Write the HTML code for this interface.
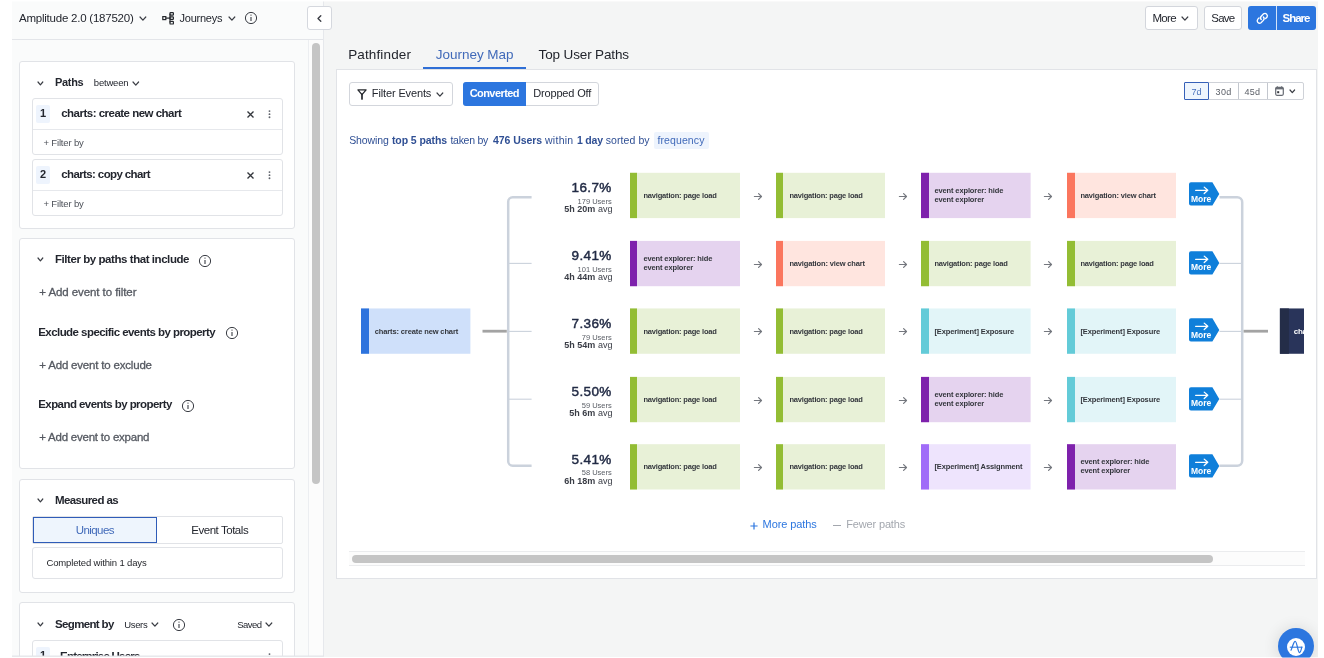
<!DOCTYPE html>
<html lang="en">
<head>
<meta charset="utf-8">
<title>Journeys - Amplitude</title>
<style>
html,body{margin:0;padding:0;background:#fff;}
body{width:1324px;height:658px;overflow:hidden;position:relative;font-family:"Liberation Sans", sans-serif;color:#1e2a4a;}
.a{position:absolute;}
.t{position:absolute;white-space:pre;}
svg{position:absolute;overflow:visible;}
b{font-weight:700;}
</style>
</head>
<body>
<div class="a" style="left:12px;top:1px;width:1306px;height:656px;background:#f4f5f5;"></div>
<div class="a" style="left:12px;top:1px;width:311px;height:656px;background:#fafbfb;"></div>
<div class="a" style="left:323px;top:1px;width:1px;height:656px;background:#e6e8ec;"></div>
<div class="a" style="left:12px;top:39px;width:311px;height:1px;background:#e3e5e9;"></div>
<div class="a" style="left:308px;top:40px;width:1px;height:617px;background:#eceef1;"></div>
<div class="a" style="left:309px;top:40px;width:14px;height:617px;background:#fcfcfc;"></div>
<div class="a" style="left:311.7px;top:43px;width:8px;height:441.3px;background:#c5c5c5;border-radius:4px;"></div>
<span class="t" style="left:19px;top:11px;font-size:11.5px;line-height:14px;color:#23262e;letter-spacing:-0.23px;">Amplitude 2.0 (187520)</span>
<svg style="left:140px;top:16.6px" width="5.8" height="3.2" viewBox="0 0 5.8 3.2"><path d="M0 0 L2.9 3.2 L5.8 0" fill="none" stroke="#3a3d44" stroke-width="1.2" stroke-linecap="round" stroke-linejoin="round"/></svg>
<svg style="left:162px;top:12px" width="14" height="13" viewBox="0 0 14 13"><g fill="none" stroke="#25282d" stroke-width="1.2"><rect x="0.8" y="4.6" width="3" height="3"/><path d="M3.8 6.1 H8"/><path d="M8 1.8 V10.6"/><rect x="8" y="0.6" width="3.4" height="2.6" rx="0.6"/><rect x="8" y="4.8" width="3.4" height="2.6" rx="0.6"/><rect x="8" y="9.4" width="3.4" height="2.6" rx="0.6"/></g></svg>
<span class="t" style="left:179.5px;top:12px;font-size:11px;line-height:13px;color:#23262e;letter-spacing:-0.23px;">Journeys</span>
<svg style="left:228.8px;top:16.6px" width="5.8" height="3.2" viewBox="0 0 5.8 3.2"><path d="M0 0 L2.9 3.2 L5.8 0" fill="none" stroke="#3a3d44" stroke-width="1.2" stroke-linecap="round" stroke-linejoin="round"/></svg>
<svg style="left:244px;top:11.3px" width="14" height="14" viewBox="-7 -7 14 14"><circle r="5.6" fill="none" stroke="#3a3d44" stroke-width="1"/><path d="M0 -1 V3" stroke="#3a3d44" stroke-width="1.1" fill="none"/><circle cy="-2.9" r="0.7" fill="#3a3d44"/></svg>
<div class="a" style="left:307px;top:6px;width:25px;height:24px;background:#fff;border:1px solid #d5d8de;box-sizing:border-box;border-radius:3px;"></div>
<svg style="left:317.4px;top:14.6px" width="5" height="7" viewBox="0 0 5 7"><path d="M3.8 0.7 L1 3.5 L3.8 6.3" fill="none" stroke="#3a3d44" stroke-width="1.35" stroke-linecap="round" stroke-linejoin="round"/></svg>
<div class="a" style="left:1145px;top:6px;width:53px;height:24px;background:#fff;border:1px solid #d3d6dc;box-sizing:border-box;border-radius:3px;"></div>
<span class="t" style="left:1152.4px;top:11px;font-size:11.5px;line-height:14px;color:#23262e;letter-spacing:-0.68px;">More</span>
<svg style="left:1182px;top:16.6px" width="5.8" height="3.2" viewBox="0 0 5.8 3.2"><path d="M0 0 L2.9 3.2 L5.8 0" fill="none" stroke="#3a3d44" stroke-width="1.2" stroke-linecap="round" stroke-linejoin="round"/></svg>
<div class="a" style="left:1204px;top:6px;width:38px;height:24px;background:#fff;border:1px solid #d3d6dc;box-sizing:border-box;border-radius:3px;"></div>
<span class="t" style="left:1211.3px;top:11px;font-size:11.5px;line-height:14px;color:#23262e;letter-spacing:-0.8px;">Save</span>
<div class="a" style="left:1248px;top:6px;width:68px;height:24px;background:#d3e3f9;border-radius:3px;"></div>
<div class="a" style="left:1248px;top:6px;width:28px;height:24px;background:#2c76df;border-radius:3px 0 0 3px;"></div>
<div class="a" style="left:1277px;top:6px;width:39px;height:24px;background:#2c76df;border-radius:0 3px 3px 0;"></div>
<svg style="left:1256px;top:12.3px" width="12.6" height="12.6" viewBox="0 0 12 12"><g fill="none" stroke="#fff" stroke-width="1.3" stroke-linecap="round"><path d="M5 7.2 a2.3 2.3 0 0 1 0 -3.2 l2.2 -2.2 a2.3 2.3 0 0 1 3.2 3.2 l-1.2 1.2"/><path d="M7 4.8 a2.3 2.3 0 0 1 0 3.2 l-2.2 2.2 a2.3 2.3 0 0 1 -3.2 -3.2 l1.2 -1.2"/></g></svg>
<span class="t" style="left:1282.6px;top:11px;font-size:11.5px;line-height:14px;font-weight:700;color:#fff;letter-spacing:-1.03px;">Share</span>
<div class="a" style="left:19px;top:61px;width:276px;height:168px;background:#fff;border:1px solid #e1e3e7;box-sizing:border-box;border-radius:3px;"></div>
<div class="a" style="left:19px;top:238px;width:276px;height:231px;background:#fff;border:1px solid #e1e3e7;box-sizing:border-box;border-radius:3px;"></div>
<div class="a" style="left:19px;top:479px;width:276px;height:114px;background:#fff;border:1px solid #e1e3e7;box-sizing:border-box;border-radius:3px;"></div>
<div class="a" style="left:19px;top:602px;width:276px;height:70px;background:#fff;border:1px solid #e1e3e7;box-sizing:border-box;border-radius:3px;"></div>
<svg style="left:37.8px;top:81.8px" width="4.8" height="2.8" viewBox="0 0 4.8 2.8"><path d="M0 0 L2.4 2.8 L4.8 0" fill="none" stroke="#3a3d44" stroke-width="1.2" stroke-linecap="round" stroke-linejoin="round"/></svg>
<span class="t" style="left:55px;top:76px;font-size:11px;line-height:13px;font-weight:700;color:#23262e;letter-spacing:-0.31px;">Paths</span>
<span class="t" style="left:93.8px;top:77px;font-size:9.5px;line-height:11px;color:#23262e;letter-spacing:-0.19px;">between</span>
<svg style="left:133.4px;top:81.6px" width="5.6" height="3.1" viewBox="0 0 5.6 3.1"><path d="M0 0 L2.8 3.1 L5.6 0" fill="none" stroke="#3a3d44" stroke-width="1.2" stroke-linecap="round" stroke-linejoin="round"/></svg>
<div class="a" style="left:32px;top:98px;width:251px;height:57px;background:#fff;border:1px solid #e1e3e7;box-sizing:border-box;border-radius:3px;"></div>
<div class="a" style="left:33px;top:129px;width:249px;height:1px;background:#e6e8ec;"></div>
<div class="a" style="left:36px;top:105px;width:14px;height:18px;background:#eef4fd;border-radius:2px;"></div>
<span class="t" style="left:40px;top:107px;font-size:11px;line-height:13px;font-weight:700;color:#23262e;letter-spacing:-0.12px;">1</span>
<span class="t" style="left:61.2px;top:106px;font-size:11.5px;line-height:14px;font-weight:700;color:#23262e;letter-spacing:-0.51px;">charts: create new chart</span>
<svg style="left:246.8px;top:110.9px" width="7" height="7" viewBox="0 0 7 7"><path d="M0.5 0.5 L6.5 6.5 M6.5 0.5 L0.5 6.5" stroke="#33363c" stroke-width="1.35" fill="none"/></svg>
<svg style="left:267.8px;top:110.1px" width="3" height="9" viewBox="0 0 3 9"><g fill="#5f636b"><circle cx="1.5" cy="1.1" r="0.95"/><circle cx="1.5" cy="4.15" r="0.95"/><circle cx="1.5" cy="7.2" r="0.95"/></g></svg>
<span class="t" style="left:43.4px;top:137px;font-size:9.5px;line-height:11px;color:#4d5159;letter-spacing:-0.15px;">+ Filter by</span>
<div class="a" style="left:32px;top:159px;width:251px;height:57px;background:#fff;border:1px solid #e1e3e7;box-sizing:border-box;border-radius:3px;"></div>
<div class="a" style="left:33px;top:190px;width:249px;height:1px;background:#e6e8ec;"></div>
<div class="a" style="left:36px;top:166px;width:14px;height:18px;background:#eef4fd;border-radius:2px;"></div>
<span class="t" style="left:40px;top:168px;font-size:11px;line-height:13px;font-weight:700;color:#23262e;letter-spacing:-0.12px;">2</span>
<span class="t" style="left:61.2px;top:167px;font-size:11.5px;line-height:14px;font-weight:700;color:#23262e;letter-spacing:-0.61px;">charts: copy chart</span>
<svg style="left:246.8px;top:171.9px" width="7" height="7" viewBox="0 0 7 7"><path d="M0.5 0.5 L6.5 6.5 M6.5 0.5 L0.5 6.5" stroke="#33363c" stroke-width="1.35" fill="none"/></svg>
<svg style="left:267.8px;top:171.1px" width="3" height="9" viewBox="0 0 3 9"><g fill="#5f636b"><circle cx="1.5" cy="1.1" r="0.95"/><circle cx="1.5" cy="4.15" r="0.95"/><circle cx="1.5" cy="7.2" r="0.95"/></g></svg>
<span class="t" style="left:43.4px;top:198px;font-size:9.5px;line-height:11px;color:#4d5159;letter-spacing:-0.15px;">+ Filter by</span>
<svg style="left:37.8px;top:258.4px" width="4.8" height="2.8" viewBox="0 0 4.8 2.8"><path d="M0 0 L2.4 2.8 L4.8 0" fill="none" stroke="#3a3d44" stroke-width="1.2" stroke-linecap="round" stroke-linejoin="round"/></svg>
<span class="t" style="left:55px;top:252px;font-size:11.5px;line-height:14px;font-weight:700;color:#23262e;letter-spacing:-0.44px;">Filter by paths that include</span>
<svg style="left:198.4px;top:253.8px" width="14" height="14" viewBox="-7 -7 14 14"><circle r="5.6" fill="none" stroke="#3a3d44" stroke-width="1"/><path d="M0 -1 V3" stroke="#3a3d44" stroke-width="1.1" fill="none"/><circle cy="-2.9" r="0.7" fill="#3a3d44"/></svg>
<span class="t" style="left:39.3px;top:285px;font-size:11.5px;line-height:14px;color:#555961;letter-spacing:-0.08px;-webkit-text-stroke:0.3px #555961;">+ Add event to filter</span>
<span class="t" style="left:38.2px;top:325px;font-size:11.5px;line-height:14px;font-weight:700;color:#23262e;letter-spacing:-0.55px;">Exclude specific events by property</span>
<svg style="left:224.5px;top:326.4px" width="14" height="14" viewBox="-7 -7 14 14"><circle r="5.6" fill="none" stroke="#3a3d44" stroke-width="1"/><path d="M0 -1 V3" stroke="#3a3d44" stroke-width="1.1" fill="none"/><circle cy="-2.9" r="0.7" fill="#3a3d44"/></svg>
<span class="t" style="left:39.3px;top:358px;font-size:11.5px;line-height:14px;color:#555961;letter-spacing:-0.19px;-webkit-text-stroke:0.3px #555961;">+ Add event to exclude</span>
<span class="t" style="left:38.2px;top:397px;font-size:11.5px;line-height:14px;font-weight:700;color:#23262e;letter-spacing:-0.56px;">Expand events by property</span>
<svg style="left:181.4px;top:398.8px" width="14" height="14" viewBox="-7 -7 14 14"><circle r="5.6" fill="none" stroke="#3a3d44" stroke-width="1"/><path d="M0 -1 V3" stroke="#3a3d44" stroke-width="1.1" fill="none"/><circle cy="-2.9" r="0.7" fill="#3a3d44"/></svg>
<span class="t" style="left:39.3px;top:430px;font-size:11.5px;line-height:14px;color:#555961;letter-spacing:-0.23px;-webkit-text-stroke:0.3px #555961;">+ Add event to expand</span>
<svg style="left:37.8px;top:499.4px" width="4.8" height="2.8" viewBox="0 0 4.8 2.8"><path d="M0 0 L2.4 2.8 L4.8 0" fill="none" stroke="#3a3d44" stroke-width="1.2" stroke-linecap="round" stroke-linejoin="round"/></svg>
<span class="t" style="left:55px;top:493px;font-size:11.5px;line-height:14px;font-weight:700;color:#23262e;letter-spacing:-0.61px;">Measured as</span>
<div class="a" style="left:32px;top:516px;width:251px;height:28px;background:#fff;border:1px solid #e1e3e7;box-sizing:border-box;border-radius:2px;"></div>
<div class="a" style="left:33px;top:517px;width:124px;height:26px;background:#eef5fd;border:1px solid #2f5cb8;box-sizing:border-box;"></div>
<span class="t" style="left:75.7px;top:523px;font-size:11.5px;line-height:14px;color:#416ab9;letter-spacing:-0.56px;">Uniques</span>
<span class="t" style="left:191.2px;top:523px;font-size:11.5px;line-height:14px;color:#23262e;letter-spacing:-0.45px;">Event Totals</span>
<div class="a" style="left:32px;top:547px;width:251px;height:32px;background:#fff;border:1px solid #e1e3e7;box-sizing:border-box;border-radius:3px;"></div>
<span class="t" style="left:46.5px;top:557px;font-size:9.5px;line-height:11px;color:#1f2126;letter-spacing:-0.15px;">Completed within 1 days</span>
<svg style="left:37.8px;top:623.4px" width="4.8" height="2.8" viewBox="0 0 4.8 2.8"><path d="M0 0 L2.4 2.8 L4.8 0" fill="none" stroke="#3a3d44" stroke-width="1.2" stroke-linecap="round" stroke-linejoin="round"/></svg>
<span class="t" style="left:55px;top:617px;font-size:11.5px;line-height:14px;font-weight:700;color:#23262e;letter-spacing:-0.65px;">Segment by</span>
<span class="t" style="left:124.3px;top:619px;font-size:9.5px;line-height:11px;color:#23262e;letter-spacing:-0.36px;">Users</span>
<svg style="left:152.3px;top:623.2px" width="5.8" height="3.2" viewBox="0 0 5.8 3.2"><path d="M0 0 L2.9 3.2 L5.8 0" fill="none" stroke="#3a3d44" stroke-width="1.2" stroke-linecap="round" stroke-linejoin="round"/></svg>
<svg style="left:171.6px;top:618.3px" width="14" height="14" viewBox="-7 -7 14 14"><circle r="5.6" fill="none" stroke="#3a3d44" stroke-width="1"/><path d="M0 -1 V3" stroke="#3a3d44" stroke-width="1.1" fill="none"/><circle cy="-2.9" r="0.7" fill="#3a3d44"/></svg>
<span class="t" style="left:237.2px;top:619px;font-size:9.5px;line-height:11px;color:#23262e;letter-spacing:-0.53px;">Saved</span>
<svg style="left:266.3px;top:623.2px" width="5.8" height="3.2" viewBox="0 0 5.8 3.2"><path d="M0 0 L2.9 3.2 L5.8 0" fill="none" stroke="#3a3d44" stroke-width="1.2" stroke-linecap="round" stroke-linejoin="round"/></svg>
<div class="a" style="left:32px;top:640px;width:251px;height:40px;background:#fff;border:1px solid #e1e3e7;box-sizing:border-box;border-radius:3px;"></div>
<div class="a" style="left:36px;top:647px;width:14px;height:18px;background:#eef4fd;border-radius:2px;"></div>
<span class="t" style="left:40px;top:649px;font-size:11px;line-height:13px;font-weight:700;color:#23262e;letter-spacing:-0.12px;">1</span>
<span class="t" style="left:60px;top:649px;font-size:11.5px;line-height:14px;font-weight:700;color:#23262e;letter-spacing:-0.78px;">Enterprise Users</span>
<svg style="left:267.8px;top:653.1px" width="3" height="9" viewBox="0 0 3 9"><g fill="#5f636b"><circle cx="1.5" cy="1.1" r="0.95"/><circle cx="1.5" cy="4.15" r="0.95"/><circle cx="1.5" cy="7.2" r="0.95"/></g></svg>
<span class="t" style="left:348.2px;top:47px;font-size:13.5px;line-height:16px;color:#22252d;letter-spacing:0.13px;">Pathfinder</span>
<span class="t" style="left:435.8px;top:47px;font-size:13.5px;line-height:16px;color:#416ab9;letter-spacing:-0.03px;">Journey Map</span>
<span class="t" style="left:538.6px;top:47px;font-size:13.5px;line-height:16px;color:#22252d;letter-spacing:-0.14px;">Top User Paths</span>
<div class="a" style="left:336px;top:69px;width:981px;height:510px;background:#fff;border:1px solid #e1e3e7;box-sizing:border-box;"></div>
<div class="a" style="left:423px;top:67px;width:103px;height:2px;background:#2f6fd6;"></div>
<div class="a" style="left:349px;top:82px;width:104px;height:24px;background:#fff;border:1px solid #d3d6dc;box-sizing:border-box;border-radius:3px;"></div>
<svg style="left:357.4px;top:89.2px" width="10" height="11" viewBox="0 0 10 11"><path d="M0.9 0.9 H9.1 L5 5.6 Z" fill="none" stroke="#25282d" stroke-width="1.3" stroke-linejoin="round"/><path d="M5 5.4 V10" fill="none" stroke="#25282d" stroke-width="1.7" stroke-linecap="round"/></svg>
<span class="t" style="left:371.8px;top:87px;font-size:11px;line-height:13px;color:#23262e;letter-spacing:-0.13px;">Filter Events</span>
<svg style="left:437.3px;top:92.7px" width="5.8" height="3.2" viewBox="0 0 5.8 3.2"><path d="M0 0 L2.9 3.2 L5.8 0" fill="none" stroke="#3a3d44" stroke-width="1.2" stroke-linecap="round" stroke-linejoin="round"/></svg>
<div class="a" style="left:463px;top:82px;width:136px;height:24px;background:#fff;border:1px solid #d3d6dc;box-sizing:border-box;border-radius:3px;"></div>
<div class="a" style="left:463px;top:82px;width:63px;height:24px;background:#2c76df;border-radius:3px 0 0 3px;"></div>
<span class="t" style="left:469.7px;top:87px;font-size:11px;line-height:13px;font-weight:700;color:#fff;letter-spacing:-0.57px;">Converted</span>
<span class="t" style="left:533.2px;top:87px;font-size:11px;line-height:13px;color:#23262e;letter-spacing:-0.16px;">Dropped Off</span>
<div class="a" style="left:1184px;top:82px;width:120px;height:18px;background:#fff;border:1px solid #cfd2d8;box-sizing:border-box;border-radius:2px;"></div>
<div class="a" style="left:1184px;top:82px;width:25px;height:18px;background:#eef5fd;border:1px solid #3560b8;box-sizing:border-box;border-radius:1px;"></div>
<div class="a" style="left:1238px;top:83px;width:1px;height:16px;background:#c3c7ce;"></div>
<div class="a" style="left:1267px;top:83px;width:1px;height:16px;background:#c3c7ce;"></div>
<span class="t" style="left:1191.4px;top:87px;font-size:9px;line-height:11px;color:#466fba;letter-spacing:0.19px;">7d</span>
<span class="t" style="left:1215.6px;top:87px;font-size:9px;line-height:11px;color:#5a5e66;letter-spacing:0.32px;">30d</span>
<span class="t" style="left:1244.4px;top:87px;font-size:9px;line-height:11px;color:#5a5e66;letter-spacing:0.32px;">45d</span>
<svg style="left:1274.8px;top:85.6px" width="9" height="10" viewBox="0 0 9 10"><rect x="0.7" y="1.4" width="7.6" height="7.9" rx="1.2" fill="none" stroke="#676b73" stroke-width="1.2"/><path d="M0.7 2 H8.3 V3.4 H0.7 Z" fill="#676b73"/><path d="M2.3 0.3 V2 M6.7 0.3 V2" stroke="#676b73" stroke-width="1.1"/><rect x="2.2" y="5.2" width="2" height="2" fill="#33363c"/></svg>
<svg style="left:1289.6px;top:90px" width="4.6" height="2.6" viewBox="0 0 4.6 2.6"><path d="M0 0 L2.3 2.6 L4.6 0" fill="none" stroke="#3a3d44" stroke-width="1.2" stroke-linecap="round" stroke-linejoin="round"/></svg>
<span class="t" style="left:349.2px;top:134px;font-size:10.5px;line-height:13px;color:#2f4f94;letter-spacing:-0.1px;">Showing</span>
<span class="t" style="left:391.9px;top:134px;font-size:10.5px;line-height:13px;font-weight:700;color:#2f4f94;letter-spacing:-0.08px;">top 5 paths</span>
<span class="t" style="left:450.4px;top:134px;font-size:10.5px;line-height:13px;color:#2f4f94;letter-spacing:-0.26px;">taken by</span>
<span class="t" style="left:493px;top:134px;font-size:10.5px;line-height:13px;font-weight:700;color:#2f4f94;letter-spacing:-0.07px;">476 Users</span>
<span class="t" style="left:545px;top:134px;font-size:10.5px;line-height:13px;color:#2f4f94;letter-spacing:0.27px;">within</span>
<span class="t" style="left:576.9px;top:134px;font-size:10.5px;line-height:13px;font-weight:700;color:#2f4f94;letter-spacing:-0.15px;">1 day</span>
<span class="t" style="left:605.8px;top:134px;font-size:10.5px;line-height:13px;color:#2f4f94;letter-spacing:0.07px;">sorted by</span>
<div class="a" style="left:653.5px;top:131.5px;width:55px;height:17px;background:#eef4fd;border-radius:2px;"></div>
<span class="t" style="left:657.5px;top:134px;font-size:10.5px;line-height:13px;color:#416ab9;letter-spacing:0.1px;">frequency</span>
<svg style="left:0;top:0" width="1324" height="658" viewBox="0 0 1324 658"><g fill="none"><path d="M531.6 197.2 H512.7 a4.5 4.5 0 0 0 -4.5 4.5 V461.3 a4.5 4.5 0 0 0 4.5 4.5 H531.6" stroke="#cbd2dc" stroke-width="2.5"/><path d="M509 263.4 H531.6" stroke="#cbd2dc" stroke-width="1.1"/><path d="M509 331.4 H531.6" stroke="#cbd2dc" stroke-width="1.1"/><path d="M509 399.2 H531.6" stroke="#cbd2dc" stroke-width="1.1"/><path d="M1219.5 197.2 H1237.2 a5 5 0 0 1 5 5 V460.8 a5 5 0 0 1 -5 5 H1219.5" stroke="#cbd2dc" stroke-width="2.5"/><path d="M1219.5 263.4 H1241.5" stroke="#cbd2dc" stroke-width="1.1"/><path d="M1219.5 331.4 H1241.5" stroke="#cbd2dc" stroke-width="1.1"/><path d="M1219.5 399.2 H1241.5" stroke="#cbd2dc" stroke-width="1.1"/><path d="M482.5 331.2 H506.8" stroke="#a3a3a3" stroke-width="2.8"/><path d="M1243.6 331.2 H1268" stroke="#a3a3a3" stroke-width="2.8"/></g></svg>
<svg style="left:0;top:0" width="1324" height="658" viewBox="0 0 1324 658"><rect x="361.00" y="308.46" width="109.40" height="45.30" fill="#cfe0fa"/><rect x="361.00" y="308.46" width="8.00" height="45.30" fill="#2d73dd"/><rect x="1279.9" y="308.46" width="24.1" height="45.3" fill="#29345a"/><rect x="1279.9" y="308.46" width="9" height="45.3" fill="#242d48"/><rect x="630.00" y="172.80" width="110.00" height="45.30" fill="#e8f1d7"/><rect x="630.00" y="172.80" width="7.00" height="45.30" fill="#93bd34"/><rect x="776.00" y="172.80" width="109.00" height="45.30" fill="#e8f1d7"/><rect x="776.00" y="172.80" width="7.00" height="45.30" fill="#93bd34"/><rect x="921.00" y="172.80" width="109.60" height="45.30" fill="#e5d3ef"/><rect x="921.00" y="172.80" width="8.00" height="45.30" fill="#7e21ac"/><rect x="1067.00" y="172.80" width="109.00" height="45.30" fill="#ffe5df"/><rect x="1067.00" y="172.80" width="8.00" height="45.30" fill="#fb765e"/><rect x="630.00" y="240.90" width="110.00" height="45.30" fill="#e5d3ef"/><rect x="630.00" y="240.90" width="7.00" height="45.30" fill="#7e21ac"/><rect x="776.00" y="240.90" width="109.00" height="45.30" fill="#ffe5df"/><rect x="776.00" y="240.90" width="7.00" height="45.30" fill="#fb765e"/><rect x="921.00" y="240.90" width="109.60" height="45.30" fill="#e8f1d7"/><rect x="921.00" y="240.90" width="8.00" height="45.30" fill="#93bd34"/><rect x="1067.00" y="240.90" width="109.00" height="45.30" fill="#e8f1d7"/><rect x="1067.00" y="240.90" width="8.00" height="45.30" fill="#93bd34"/><rect x="630.00" y="308.46" width="110.00" height="45.30" fill="#e8f1d7"/><rect x="630.00" y="308.46" width="7.00" height="45.30" fill="#93bd34"/><rect x="776.00" y="308.46" width="109.00" height="45.30" fill="#e8f1d7"/><rect x="776.00" y="308.46" width="7.00" height="45.30" fill="#93bd34"/><rect x="921.00" y="308.46" width="109.60" height="45.30" fill="#e2f5f8"/><rect x="921.00" y="308.46" width="8.00" height="45.30" fill="#63cbd8"/><rect x="1067.00" y="308.46" width="109.00" height="45.30" fill="#e2f5f8"/><rect x="1067.00" y="308.46" width="8.00" height="45.30" fill="#63cbd8"/><rect x="630.00" y="376.90" width="110.00" height="45.30" fill="#e8f1d7"/><rect x="630.00" y="376.90" width="7.00" height="45.30" fill="#93bd34"/><rect x="776.00" y="376.90" width="109.00" height="45.30" fill="#e8f1d7"/><rect x="776.00" y="376.90" width="7.00" height="45.30" fill="#93bd34"/><rect x="921.00" y="376.90" width="109.60" height="45.30" fill="#e5d3ef"/><rect x="921.00" y="376.90" width="8.00" height="45.30" fill="#7e21ac"/><rect x="1067.00" y="376.90" width="109.00" height="45.30" fill="#e2f5f8"/><rect x="1067.00" y="376.90" width="8.00" height="45.30" fill="#63cbd8"/><rect x="630.00" y="444.20" width="110.00" height="45.30" fill="#e8f1d7"/><rect x="630.00" y="444.20" width="7.00" height="45.30" fill="#93bd34"/><rect x="776.00" y="444.20" width="109.00" height="45.30" fill="#e8f1d7"/><rect x="776.00" y="444.20" width="7.00" height="45.30" fill="#93bd34"/><rect x="921.00" y="444.20" width="109.60" height="45.30" fill="#eee4fd"/><rect x="921.00" y="444.20" width="8.00" height="45.30" fill="#a06cf8"/><rect x="1067.00" y="444.20" width="109.00" height="45.30" fill="#e5d3ef"/><rect x="1067.00" y="444.20" width="8.00" height="45.30" fill="#7e21ac"/></svg>
<span class="t" style="left:374.7px;top:327px;font-size:7.5px;line-height:9px;font-weight:700;color:#33363c;letter-spacing:-0.12px;">charts: create new chart</span>
<div class="a" style="left:1280px;top:309px;width:24px;height:45px;overflow:hidden"><span class="t" style="left:13.8px;top:17.5px;font-size:8px;line-height:10px;font-weight:700;color:#fff;letter-spacing:-0.3px">charts: copy chart</span></div>
<span class="t" style="left:571.56px;top:180px;font-size:13.5px;line-height:16px;color:#222b45;letter-spacing:0.36px;-webkit-text-stroke:0.45px #222b45;">16.7%</span>
<span class="t" style="left:577.61px;top:197px;font-size:7.5px;line-height:9px;color:#5c6068;">179 Users</span>
<span class="t" style="left:564.35px;top:204px;font-size:9px;line-height:11px;color:#3a3d46;"><b>5h 20m</b> avg</span>
<span class="t" style="left:643.4px;top:191px;font-size:7.5px;line-height:9px;font-weight:700;color:#33363c;letter-spacing:-0.18px;">navigation: page load</span>
<span class="t" style="left:789.4px;top:191px;font-size:7.5px;line-height:9px;font-weight:700;color:#33363c;letter-spacing:-0.18px;">navigation: page load</span>
<span class="t" style="left:934.4px;top:186px;font-size:7.5px;line-height:9px;font-weight:700;color:#33363c;letter-spacing:-0.12px;">event explorer: hide</span>
<span class="t" style="left:934.4px;top:195px;font-size:7.5px;line-height:9px;font-weight:700;color:#33363c;letter-spacing:-0.12px;">event explorer</span>
<span class="t" style="left:1080.4px;top:191px;font-size:7.5px;line-height:9px;font-weight:700;color:#33363c;letter-spacing:-0.15px;">navigation: view chart</span>
<svg style="left:754.2px;top:192.5px" width="8" height="7" viewBox="0 0 8 7"><path d="M0.4 3.5 H7.4 M4.6 0.6 L7.5 3.5 L4.6 6.4" fill="none" stroke="#74777e" stroke-width="1.2" stroke-linecap="round" stroke-linejoin="round"/></svg>
<svg style="left:899px;top:192.5px" width="8" height="7" viewBox="0 0 8 7"><path d="M0.4 3.5 H7.4 M4.6 0.6 L7.5 3.5 L4.6 6.4" fill="none" stroke="#74777e" stroke-width="1.2" stroke-linecap="round" stroke-linejoin="round"/></svg>
<svg style="left:1044.4px;top:192.5px" width="8" height="7" viewBox="0 0 8 7"><path d="M0.4 3.5 H7.4 M4.6 0.6 L7.5 3.5 L4.6 6.4" fill="none" stroke="#74777e" stroke-width="1.2" stroke-linecap="round" stroke-linejoin="round"/></svg>
<svg style="left:1188.8px;top:182.4px" width="31" height="24" viewBox="0 0 31 24"><path d="M2 0.2 H23.4 L30.3 11.9 L23.4 23.6 H2 a2 2 0 0 1 -2 -2 V2.2 a2 2 0 0 1 2 -2 Z" fill="#0f7fda"/><path d="M6.6 8.3 H18.6 M15.2 5.1 L18.8 8.3 L15.2 11.5" fill="none" stroke="#fff" stroke-width="1.25" stroke-linecap="round" stroke-linejoin="round"/></svg>
<span class="t" style="left:1191px;top:194px;font-size:8.5px;line-height:10px;font-weight:700;color:#fff;">More</span>
<span class="t" style="left:571.56px;top:248px;font-size:13.5px;line-height:16px;color:#222b45;letter-spacing:0.36px;-webkit-text-stroke:0.45px #222b45;">9.41%</span>
<span class="t" style="left:577.61px;top:265px;font-size:7.5px;line-height:9px;color:#5c6068;">101 Users</span>
<span class="t" style="left:564.35px;top:272px;font-size:9px;line-height:11px;color:#3a3d46;"><b>4h 44m</b> avg</span>
<span class="t" style="left:643.4px;top:254px;font-size:7.5px;line-height:9px;font-weight:700;color:#33363c;letter-spacing:-0.12px;">event explorer: hide</span>
<span class="t" style="left:643.4px;top:263px;font-size:7.5px;line-height:9px;font-weight:700;color:#33363c;letter-spacing:-0.12px;">event explorer</span>
<span class="t" style="left:789.4px;top:259px;font-size:7.5px;line-height:9px;font-weight:700;color:#33363c;letter-spacing:-0.15px;">navigation: view chart</span>
<span class="t" style="left:934.4px;top:259px;font-size:7.5px;line-height:9px;font-weight:700;color:#33363c;letter-spacing:-0.18px;">navigation: page load</span>
<span class="t" style="left:1080.4px;top:259px;font-size:7.5px;line-height:9px;font-weight:700;color:#33363c;letter-spacing:-0.18px;">navigation: page load</span>
<svg style="left:754.2px;top:260.6px" width="8" height="7" viewBox="0 0 8 7"><path d="M0.4 3.5 H7.4 M4.6 0.6 L7.5 3.5 L4.6 6.4" fill="none" stroke="#74777e" stroke-width="1.2" stroke-linecap="round" stroke-linejoin="round"/></svg>
<svg style="left:899px;top:260.6px" width="8" height="7" viewBox="0 0 8 7"><path d="M0.4 3.5 H7.4 M4.6 0.6 L7.5 3.5 L4.6 6.4" fill="none" stroke="#74777e" stroke-width="1.2" stroke-linecap="round" stroke-linejoin="round"/></svg>
<svg style="left:1044.4px;top:260.6px" width="8" height="7" viewBox="0 0 8 7"><path d="M0.4 3.5 H7.4 M4.6 0.6 L7.5 3.5 L4.6 6.4" fill="none" stroke="#74777e" stroke-width="1.2" stroke-linecap="round" stroke-linejoin="round"/></svg>
<svg style="left:1188.8px;top:250.5px" width="31" height="24" viewBox="0 0 31 24"><path d="M2 0.2 H23.4 L30.3 11.9 L23.4 23.6 H2 a2 2 0 0 1 -2 -2 V2.2 a2 2 0 0 1 2 -2 Z" fill="#0f7fda"/><path d="M6.6 8.3 H18.6 M15.2 5.1 L18.8 8.3 L15.2 11.5" fill="none" stroke="#fff" stroke-width="1.25" stroke-linecap="round" stroke-linejoin="round"/></svg>
<span class="t" style="left:1191px;top:262px;font-size:8.5px;line-height:10px;font-weight:700;color:#fff;">More</span>
<span class="t" style="left:571.56px;top:316px;font-size:13.5px;line-height:16px;color:#222b45;letter-spacing:0.36px;-webkit-text-stroke:0.45px #222b45;">7.36%</span>
<span class="t" style="left:581.78px;top:333px;font-size:7.5px;line-height:9px;color:#5c6068;">79 Users</span>
<span class="t" style="left:564.35px;top:340px;font-size:9px;line-height:11px;color:#3a3d46;"><b>5h 54m</b> avg</span>
<span class="t" style="left:643.4px;top:327px;font-size:7.5px;line-height:9px;font-weight:700;color:#33363c;letter-spacing:-0.18px;">navigation: page load</span>
<span class="t" style="left:789.4px;top:327px;font-size:7.5px;line-height:9px;font-weight:700;color:#33363c;letter-spacing:-0.18px;">navigation: page load</span>
<span class="t" style="left:934.4px;top:327px;font-size:7.5px;line-height:9px;font-weight:700;color:#33363c;letter-spacing:-0.12px;">[Experiment] Exposure</span>
<span class="t" style="left:1080.4px;top:327px;font-size:7.5px;line-height:9px;font-weight:700;color:#33363c;letter-spacing:-0.12px;">[Experiment] Exposure</span>
<svg style="left:754.2px;top:328.15999999999997px" width="8" height="7" viewBox="0 0 8 7"><path d="M0.4 3.5 H7.4 M4.6 0.6 L7.5 3.5 L4.6 6.4" fill="none" stroke="#74777e" stroke-width="1.2" stroke-linecap="round" stroke-linejoin="round"/></svg>
<svg style="left:899px;top:328.15999999999997px" width="8" height="7" viewBox="0 0 8 7"><path d="M0.4 3.5 H7.4 M4.6 0.6 L7.5 3.5 L4.6 6.4" fill="none" stroke="#74777e" stroke-width="1.2" stroke-linecap="round" stroke-linejoin="round"/></svg>
<svg style="left:1044.4px;top:328.15999999999997px" width="8" height="7" viewBox="0 0 8 7"><path d="M0.4 3.5 H7.4 M4.6 0.6 L7.5 3.5 L4.6 6.4" fill="none" stroke="#74777e" stroke-width="1.2" stroke-linecap="round" stroke-linejoin="round"/></svg>
<svg style="left:1188.8px;top:318.1px" width="31" height="24" viewBox="0 0 31 24"><path d="M2 0.2 H23.4 L30.3 11.9 L23.4 23.6 H2 a2 2 0 0 1 -2 -2 V2.2 a2 2 0 0 1 2 -2 Z" fill="#0f7fda"/><path d="M6.6 8.3 H18.6 M15.2 5.1 L18.8 8.3 L15.2 11.5" fill="none" stroke="#fff" stroke-width="1.25" stroke-linecap="round" stroke-linejoin="round"/></svg>
<span class="t" style="left:1191px;top:330px;font-size:8.5px;line-height:10px;font-weight:700;color:#fff;">More</span>
<span class="t" style="left:571.56px;top:384px;font-size:13.5px;line-height:16px;color:#222b45;letter-spacing:0.36px;-webkit-text-stroke:0.45px #222b45;">5.50%</span>
<span class="t" style="left:581.78px;top:401px;font-size:7.5px;line-height:9px;color:#5c6068;">59 Users</span>
<span class="t" style="left:569.37px;top:408px;font-size:9px;line-height:11px;color:#3a3d46;"><b>5h 6m</b> avg</span>
<span class="t" style="left:643.4px;top:395px;font-size:7.5px;line-height:9px;font-weight:700;color:#33363c;letter-spacing:-0.18px;">navigation: page load</span>
<span class="t" style="left:789.4px;top:395px;font-size:7.5px;line-height:9px;font-weight:700;color:#33363c;letter-spacing:-0.18px;">navigation: page load</span>
<span class="t" style="left:934.4px;top:390px;font-size:7.5px;line-height:9px;font-weight:700;color:#33363c;letter-spacing:-0.12px;">event explorer: hide</span>
<span class="t" style="left:934.4px;top:399px;font-size:7.5px;line-height:9px;font-weight:700;color:#33363c;letter-spacing:-0.12px;">event explorer</span>
<span class="t" style="left:1080.4px;top:395px;font-size:7.5px;line-height:9px;font-weight:700;color:#33363c;letter-spacing:-0.12px;">[Experiment] Exposure</span>
<svg style="left:754.2px;top:396.59999999999997px" width="8" height="7" viewBox="0 0 8 7"><path d="M0.4 3.5 H7.4 M4.6 0.6 L7.5 3.5 L4.6 6.4" fill="none" stroke="#74777e" stroke-width="1.2" stroke-linecap="round" stroke-linejoin="round"/></svg>
<svg style="left:899px;top:396.59999999999997px" width="8" height="7" viewBox="0 0 8 7"><path d="M0.4 3.5 H7.4 M4.6 0.6 L7.5 3.5 L4.6 6.4" fill="none" stroke="#74777e" stroke-width="1.2" stroke-linecap="round" stroke-linejoin="round"/></svg>
<svg style="left:1044.4px;top:396.59999999999997px" width="8" height="7" viewBox="0 0 8 7"><path d="M0.4 3.5 H7.4 M4.6 0.6 L7.5 3.5 L4.6 6.4" fill="none" stroke="#74777e" stroke-width="1.2" stroke-linecap="round" stroke-linejoin="round"/></svg>
<svg style="left:1188.8px;top:386.5px" width="31" height="24" viewBox="0 0 31 24"><path d="M2 0.2 H23.4 L30.3 11.9 L23.4 23.6 H2 a2 2 0 0 1 -2 -2 V2.2 a2 2 0 0 1 2 -2 Z" fill="#0f7fda"/><path d="M6.6 8.3 H18.6 M15.2 5.1 L18.8 8.3 L15.2 11.5" fill="none" stroke="#fff" stroke-width="1.25" stroke-linecap="round" stroke-linejoin="round"/></svg>
<span class="t" style="left:1191px;top:398px;font-size:8.5px;line-height:10px;font-weight:700;color:#fff;">More</span>
<span class="t" style="left:571.56px;top:452px;font-size:13.5px;line-height:16px;color:#222b45;letter-spacing:0.36px;-webkit-text-stroke:0.45px #222b45;">5.41%</span>
<span class="t" style="left:581.78px;top:468px;font-size:7.5px;line-height:9px;color:#5c6068;">58 Users</span>
<span class="t" style="left:564.35px;top:476px;font-size:9px;line-height:11px;color:#3a3d46;"><b>6h 18m</b> avg</span>
<span class="t" style="left:643.4px;top:462px;font-size:7.5px;line-height:9px;font-weight:700;color:#33363c;letter-spacing:-0.18px;">navigation: page load</span>
<span class="t" style="left:789.4px;top:462px;font-size:7.5px;line-height:9px;font-weight:700;color:#33363c;letter-spacing:-0.18px;">navigation: page load</span>
<span class="t" style="left:934.4px;top:462px;font-size:7.5px;line-height:9px;font-weight:700;color:#33363c;letter-spacing:-0.11px;">[Experiment] Assignment</span>
<span class="t" style="left:1080.4px;top:457px;font-size:7.5px;line-height:9px;font-weight:700;color:#33363c;letter-spacing:-0.12px;">event explorer: hide</span>
<span class="t" style="left:1080.4px;top:466px;font-size:7.5px;line-height:9px;font-weight:700;color:#33363c;letter-spacing:-0.12px;">event explorer</span>
<svg style="left:754.2px;top:463.9px" width="8" height="7" viewBox="0 0 8 7"><path d="M0.4 3.5 H7.4 M4.6 0.6 L7.5 3.5 L4.6 6.4" fill="none" stroke="#74777e" stroke-width="1.2" stroke-linecap="round" stroke-linejoin="round"/></svg>
<svg style="left:899px;top:463.9px" width="8" height="7" viewBox="0 0 8 7"><path d="M0.4 3.5 H7.4 M4.6 0.6 L7.5 3.5 L4.6 6.4" fill="none" stroke="#74777e" stroke-width="1.2" stroke-linecap="round" stroke-linejoin="round"/></svg>
<svg style="left:1044.4px;top:463.9px" width="8" height="7" viewBox="0 0 8 7"><path d="M0.4 3.5 H7.4 M4.6 0.6 L7.5 3.5 L4.6 6.4" fill="none" stroke="#74777e" stroke-width="1.2" stroke-linecap="round" stroke-linejoin="round"/></svg>
<svg style="left:1188.8px;top:453.8px" width="31" height="24" viewBox="0 0 31 24"><path d="M2 0.2 H23.4 L30.3 11.9 L23.4 23.6 H2 a2 2 0 0 1 -2 -2 V2.2 a2 2 0 0 1 2 -2 Z" fill="#0f7fda"/><path d="M6.6 8.3 H18.6 M15.2 5.1 L18.8 8.3 L15.2 11.5" fill="none" stroke="#fff" stroke-width="1.25" stroke-linecap="round" stroke-linejoin="round"/></svg>
<span class="t" style="left:1191px;top:466px;font-size:8.5px;line-height:10px;font-weight:700;color:#fff;">More</span>
<svg style="left:749.8px;top:521.7px" width="8" height="8" viewBox="0 0 8 8"><path d="M4 0.4 V7.6 M0.4 4 H7.6" stroke="#2c76df" stroke-width="1.2" fill="none"/></svg>
<span class="t" style="left:762.6px;top:518px;font-size:11px;line-height:13px;color:#2c76df;letter-spacing:-0.1px;">More paths</span>
<div class="a" style="left:833.2px;top:525px;width:7.5px;height:1px;background:#a3a7ae;"></div>
<span class="t" style="left:846.3px;top:518px;font-size:11px;line-height:13px;color:#a3a7ae;letter-spacing:-0.16px;">Fewer paths</span>
<div class="a" style="left:349px;top:551px;width:956px;height:15px;background:#fcfcfc;border-top:1px solid #ebecee;border-bottom:1px solid #ebecee;box-sizing:border-box;"></div>
<div class="a" style="left:352px;top:555px;width:860.5px;height:8px;background:#c5c5c5;border-radius:4px;"></div>
<div class="a" style="left:1278px;top:628px;width:36px;height:36px;border-radius:18px;background:#2c76df;box-shadow:0 1px 14px 3px rgba(0,0,0,0.09)"></div>
<svg style="left:1287px;top:637.5px" width="18" height="18" viewBox="0 0 18 18"><circle cx="9" cy="9" r="9" fill="#fff"/><path d="M2.8 9.2 H15.4" stroke="#2c76df" stroke-width="1.1" fill="none"/><path d="M4 12.2 C5.4 9.5 6.6 3.4 8.2 3.4 C10 3.4 10.8 14.6 12.6 14.6 C13.6 14.6 14.2 11.4 14.8 9.2" stroke="#2c76df" stroke-width="1.2" fill="none" stroke-linecap="round"/></svg>
<div class="a" style="left:12px;top:655px;width:312px;height:1px;background:rgba(226,228,232,0.45);"></div>
<div class="a" style="left:12px;top:656px;width:312px;height:1px;background:#e8e9ec;"></div>
<div class="a" style="left:324px;top:657px;width:994px;height:1px;background:rgba(255,255,255,0.45);"></div>
<div class="a" style="left:12px;top:1px;width:1306px;height:1px;background:rgba(255,255,255,0.45);"></div>
<div class="a" style="left:0px;top:0px;width:1324px;height:1px;background:#fff;"></div>
<div class="a" style="left:0px;top:657px;width:324px;height:1px;background:#fff;"></div>
<div class="a" style="left:0px;top:0px;width:12px;height:658px;background:#fff;"></div>
<div class="a" style="left:1318px;top:0px;width:6px;height:658px;background:#fff;"></div>
</body>
</html>
